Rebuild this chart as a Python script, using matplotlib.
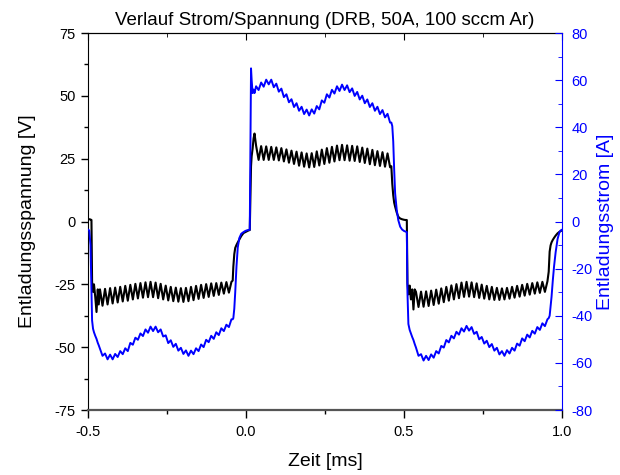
import matplotlib
matplotlib.use('Agg')
import matplotlib.pyplot as plt
from matplotlib.ticker import MultipleLocator

plt.rcParams['font.family'] = ['Liberation Sans', 'DejaVu Sans']
plt.rcParams['axes.unicode_minus'] = False

# Zeitachse [ms] (Oszilloskop-Aufnahme)
t_ms = [
    -0.500, -0.496, -0.492, -0.489, -0.487, -0.484, -0.481, -0.477, -0.473, -0.469, -0.466,
    -0.462, -0.454, -0.446, -0.438, -0.430, -0.422, -0.414, -0.406, -0.398, -0.390,
    -0.382, -0.374, -0.366, -0.358, -0.350, -0.342, -0.334, -0.326, -0.318, -0.310,
    -0.302, -0.294, -0.286, -0.278, -0.270, -0.262, -0.254, -0.246, -0.238, -0.230,
    -0.222, -0.214, -0.206, -0.198, -0.190, -0.182, -0.174, -0.166, -0.158, -0.150,
    -0.142, -0.134, -0.126, -0.118, -0.110, -0.102, -0.094, -0.086, -0.078, -0.070,
    -0.062, -0.054, -0.046,
    -0.042, -0.040, -0.037, -0.034, -0.030, -0.026, -0.021, -0.015, -0.008, -0.002, 0.004, 0.009,
    0.012, 0.014, 0.016, 0.018, 0.021, 0.024, 0.027,
    0.032, 0.040, 0.048, 0.056, 0.064, 0.072, 0.080, 0.088, 0.096, 0.104,
    0.112, 0.120, 0.128, 0.136, 0.144, 0.152, 0.160, 0.168, 0.176, 0.184,
    0.192, 0.200, 0.208, 0.216, 0.224, 0.232, 0.240, 0.248, 0.256, 0.264,
    0.272, 0.280, 0.288, 0.296, 0.304, 0.312, 0.320, 0.328, 0.336, 0.344,
    0.352, 0.360, 0.368, 0.376, 0.384, 0.392, 0.400, 0.408, 0.416, 0.424,
    0.432, 0.440, 0.448, 0.456,
    0.460, 0.463, 0.466, 0.469, 0.472, 0.477, 0.482, 0.488, 0.494, 0.500, 0.505, 0.509,
    0.511, 0.514, 0.518, 0.522, 0.526, 0.530, 0.534,
    0.538, 0.546, 0.554, 0.562, 0.570, 0.578, 0.586, 0.594, 0.602, 0.610,
    0.618, 0.626, 0.634, 0.642, 0.650, 0.658, 0.666, 0.674, 0.682, 0.690,
    0.698, 0.706, 0.714, 0.722, 0.730, 0.738, 0.746, 0.754, 0.762, 0.770,
    0.778, 0.786, 0.794, 0.802, 0.810, 0.818, 0.826, 0.834, 0.842, 0.850,
    0.858, 0.866, 0.874, 0.882, 0.890, 0.898, 0.906, 0.914, 0.922, 0.930,
    0.938, 0.946, 0.954,
    0.958, 0.961, 0.964, 0.967, 0.971, 0.975, 0.980, 0.986, 0.992, 0.996, 1.000,
]

# Entladungsspannung [V]
spannung_v = [
    1.0, 0.9, 0.8, 0.6, -24.0, -28.0, -25.0, -30.0, -36.0, -27.0, -33.0,
    -27.0, -33.5, -26.8, -33.0, -26.5, -32.6, -26.3, -32.2, -26.0, -31.8,
    -25.6, -31.5, -25.2, -31.0, -24.8, -30.6, -24.5, -30.3, -24.2, -30.1,
    -24.0, -30.1, -24.3, -30.5, -24.8, -31.0, -25.5, -31.4, -26.0, -31.7,
    -26.3, -31.9, -26.5, -32.0, -26.4, -31.7, -26.0, -31.3, -25.6, -30.8,
    -25.2, -30.4, -24.9, -30.0, -24.6, -29.6, -24.5, -29.2, -24.3, -28.7,
    -24.1, -28.3, -24.0,
    -23.5, -18.0, -13.0, -10.5, -9.3, -8.3, -7.2, -5.8, -4.6, -4.2, -3.8, -3.5,
    -3.4, 10.0, 22.0, 26.0, 29.0, 33.0, 35.0,
    30.2, 24.5, 30.0, 24.5, 29.9, 24.5, 29.7, 24.5, 29.5, 24.3,
    29.2, 23.9, 28.7, 23.4, 28.2, 22.9, 27.8, 22.2, 27.5, 21.8,
    27.1, 21.5, 27.2, 21.7, 27.9, 22.3, 28.6, 22.9, 29.2, 23.4,
    29.7, 23.9, 30.2, 24.4, 30.5, 24.4, 30.3, 24.2, 30.1, 24.1,
    29.9, 23.7, 29.4, 23.3, 29.0, 22.8, 28.5, 22.4, 28.0, 22.1,
    27.6, 21.8, 27.1, 21.6,
    22.0, 15.0, 10.5, 7.5, 5.9, 3.6, 1.9, 1.2, 0.9, 0.7, 0.6, 0.6,
    -24.5, -29.0, -25.5, -31.0, -27.0, -35.0, -27.0,
    -28.0, -34.0, -27.9, -33.9, -27.8, -33.6, -27.5, -33.2, -27.1, -32.7,
    -26.6, -32.1, -26.0, -31.5, -25.4, -31.0, -24.9, -30.5, -24.3, -30.0,
    -24.0, -29.9, -24.2, -30.1, -24.6, -30.4, -25.1, -30.7, -25.6, -31.0,
    -26.0, -31.2, -26.4, -31.2, -26.6, -31.0, -26.4, -30.7, -26.0, -30.3,
    -25.6, -29.9, -25.2, -29.5, -24.8, -29.1, -24.5, -28.7, -24.2, -28.4,
    -24.0, -28.0, -23.8,
    -20.0, -12.0, -9.5, -8.3, -7.3, -6.5, -5.6, -4.7, -4.1, -3.8, -3.5,
]

# Entladungsstrom [A]
strom_a = [
    -3.4, -3.8, -10.0, -30.0, -42.0, -45.5, -47.0, -48.5, -49.8, -51.5, -52.5,
    -54.0, -57.0, -56.0, -58.5, -56.5, -58.5, -56.2, -57.5, -55.0, -56.3,
    -53.8, -55.0, -51.5, -52.3, -49.3, -50.2, -47.5, -48.6, -45.8, -47.2,
    -44.6, -46.5, -44.6, -47.0, -45.8, -48.8, -48.3, -51.6, -50.4, -53.2,
    -51.9, -54.8, -53.6, -56.2, -54.7, -57.0, -54.8, -56.3, -53.8, -55.0,
    -52.2, -53.3, -50.2, -51.2, -48.5, -49.8, -47.0, -48.2, -45.3, -46.5,
    -43.8, -44.8, -41.5,
    -41.5, -41.0, -37.0, -30.0, -19.0, -11.0, -7.0, -5.2, -4.5, -4.0, -3.7, -3.6,
    -3.5, 30.0, 65.0, 60.0, 54.5, 56.0, 54.5,
    57.4, 55.8, 59.0, 57.2, 60.2, 58.2, 60.2, 57.0, 58.5, 55.1,
    56.4, 52.8, 54.0, 50.6, 51.9, 48.6, 50.2, 47.0, 48.7, 45.6,
    47.5, 45.0, 47.6, 45.8, 49.0, 47.6, 51.4, 50.4, 54.0, 52.6,
    55.9, 54.3, 57.4, 55.4, 58.1, 55.8, 57.8, 54.9, 56.5, 53.3,
    55.0, 51.8, 53.4, 50.2, 51.8, 48.6, 50.2, 47.0, 48.7, 45.6,
    47.3, 44.2, 45.7, 42.0,
    42.0, 40.5, 34.0, 22.0, 12.0, 5.0, 0.6, -2.2, -3.4, -4.0, -4.3, -4.5,
    -30.0, -43.5, -46.0, -47.5, -49.0, -50.3, -52.0,
    -53.5, -57.0, -56.3, -59.0, -57.0, -58.8, -56.4, -57.8, -55.0, -56.0,
    -52.8, -53.5, -50.3, -51.3, -48.5, -49.6, -46.8, -48.0, -45.3, -46.7,
    -44.3, -46.3, -44.8, -47.7, -46.8, -50.0, -49.0, -51.8, -50.6, -53.3,
    -52.0, -54.8, -53.6, -56.4, -55.0, -57.0, -54.6, -56.0, -53.6, -54.8,
    -51.8, -52.7, -49.6, -50.8, -48.0, -49.2, -46.4, -47.6, -44.8, -46.0,
    -43.2, -44.4, -41.5,
    -41.0, -40.0, -36.0, -32.0, -25.0, -19.0, -13.0, -7.5, -4.5, -3.8, -3.5,
]

blau = '#0000ff'

fig = plt.figure(figsize=(6.2, 4.75), dpi=100)
ax = fig.add_axes([0.1419, 0.1368, 0.7645, 0.7937])

ax.plot(t_ms, spannung_v, color='black', lw=1.5)
ax.set_xlim(-0.5, 1.0)
ax.set_ylim(-75, 75)
ax.xaxis.set_major_locator(MultipleLocator(0.5))
ax.xaxis.set_minor_locator(MultipleLocator(0.25))
ax.yaxis.set_major_locator(MultipleLocator(25))
ax.yaxis.set_minor_locator(MultipleLocator(12.5))
ax.xaxis.set_major_formatter(matplotlib.ticker.FormatStrFormatter('%.1f'))
ax.tick_params(axis='y', which='major', direction='out', length=5, width=1,
               labelsize=10.5, pad=4)
ax.tick_params(axis='x', which='major', direction='out', length=6, width=1,
               labelsize=10.5, pad=5)
ax.tick_params(axis='both', which='minor', direction='out', length=3, width=1)
ax.tick_params(axis='y', right=False)
ax.spines['bottom'].set_color('#555555')
ax.spines['bottom'].set_linewidth(1.6)
ax.spines['right'].set_visible(False)
ax.set_xlabel('Zeit [ms]', fontsize=14, labelpad=10)
ax.set_ylabel('Entladungsspannung [V]', fontsize=14, labelpad=13)
ax.set_title('Verlauf Strom/Spannung (DRB, 50A, 100 sccm Ar)', fontsize=13.5, pad=6)

# Ticks oben nach innen
top = ax.secondary_xaxis('top')
top.xaxis.set_major_locator(MultipleLocator(0.5))
top.xaxis.set_minor_locator(MultipleLocator(0.25))
top.tick_params(which='major', direction='in', length=5, labeltop=False)
top.tick_params(which='minor', direction='in', length=3)

ax2 = ax.twinx()
ax2.plot(t_ms, strom_a, color=blau, lw=1.4)
ax2.set_ylim(-80, 80)
ax2.yaxis.set_major_locator(MultipleLocator(20))
ax2.yaxis.set_minor_locator(MultipleLocator(10))
ax2.tick_params(axis='y', which='major', direction='in', length=5, color=blau,
                labelcolor=blau, labelsize=10.5, pad=7)
ax2.tick_params(axis='y', which='minor', direction='in', length=3, color=blau)
for s in ['left', 'top', 'bottom']:
    ax2.spines[s].set_visible(False)
ax2.spines['right'].set_color(blau)
ax2.set_ylabel('Entladungsstrom [A]', fontsize=14, color=blau, labelpad=3)

fig.savefig('out.png', dpi=100)
